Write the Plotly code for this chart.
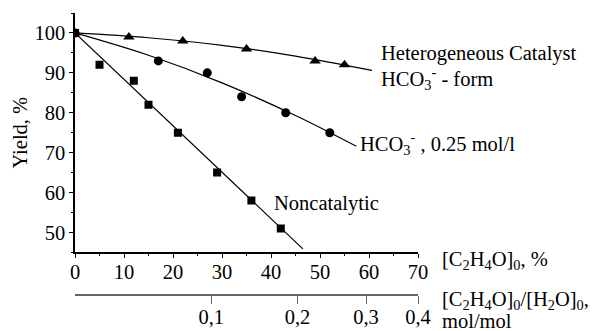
import plotly.graph_objects as go

# Noncatalytic (squares)
nc_x = [0, 5, 12, 15, 21, 29, 36, 42]
nc_y = [100, 92, 88, 82, 75, 65, 58, 51]
nc_fit_x = [0, 46.5]
nc_fit_y = [100, 45.9]

# HCO3-, 0.25 mol/l (circles)
hc_x = [0, 17, 27, 34, 43, 52]
hc_y = [100, 93, 90, 84, 80, 75]
hc_fit_x = [0, 15, 30, 45, 57.4]
hc_fit_y = [100, 94.4, 87.5, 79.3, 71.6]

# Heterogeneous catalyst HCO3- form (triangles)
het_x = [0, 11, 22, 35, 49, 55]
het_y = [100, 99, 98, 96, 93, 92]
het_fit_x = [0, 15, 30, 45, 60.6]
het_fit_y = [100, 98.8, 96.9, 94.2, 90.6]

# secondary axis: mol/mol ratio ticks placed at equivalent % positions
ratio_pos = [27.8, 45.4, 59.4, 70]
ratio_text = ["0,1", "0,2", "0,3", "0,4"]

FONT = "Liberation Serif"
FS = 20.5
W, H = 595, 331
ML, MR, MT, MB = 75, 177, 13, 36
PW, PH = W - ML - MR, H - MT - MB


def px(x):
    return (x - ML) / PW


def py(y):
    return (H - MB - y) / PH


fig = go.Figure()
line_style = dict(color="black", width=1.2)

fig.add_trace(go.Scatter(x=het_fit_x, y=het_fit_y, mode="lines", line=dict(shape="spline", **line_style), hoverinfo="skip"))
fig.add_trace(go.Scatter(x=hc_fit_x, y=hc_fit_y, mode="lines", line=dict(shape="spline", **line_style), hoverinfo="skip"))
fig.add_trace(go.Scatter(x=nc_fit_x, y=nc_fit_y, mode="lines", line=line_style, hoverinfo="skip"))
fig.add_trace(go.Scatter(x=nc_x, y=nc_y, mode="markers", marker=dict(symbol="square", size=8, color="black")))
fig.add_trace(go.Scatter(x=het_x, y=het_y, mode="markers", marker=dict(symbol="triangle-up", size=10, color="black")))
fig.add_trace(go.Scatter(x=hc_x, y=hc_y, mode="markers", marker=dict(symbol="circle", size=9, color="black")))
fig.add_trace(go.Scatter(x=ratio_pos, y=[None] * len(ratio_pos), xaxis="x2", mode="markers", hoverinfo="skip"))

fig.update_layout(
    width=W, height=H,
    margin=dict(l=ML, r=MR, t=MT, b=MB),
    paper_bgcolor="white", plot_bgcolor="white",
    showlegend=False,
    font=dict(family=FONT, size=FS, color="black"),
    xaxis=dict(range=[0, 70], tickvals=[0, 10, 20, 30, 40, 50, 60, 70],
               showline=True, linecolor="black", linewidth=1.5,
               ticks="outside", ticklen=4, tickwidth=1.2, tickcolor="black",
               minor=dict(ticks="outside", ticklen=2, tickwidth=1.2, tickcolor="black", dtick=5),
               showgrid=False, zeroline=False, anchor="y", automargin=False,
               ticklabelstandoff=-4,
               tickfont=dict(family=FONT, size=FS)),
    yaxis=dict(range=[45, 105], domain=[0.151, 1], tickvals=[50, 60, 70, 80, 90, 100],
               showline=True, linecolor="black", linewidth=1.5,
               ticks="outside", ticklen=4, tickwidth=1.2, tickcolor="black",
               minor=dict(ticks="outside", ticklen=2, tickwidth=1.2, tickcolor="black", dtick=5),
               showgrid=False, zeroline=False, automargin=False,
               title=dict(text="Yield, %", font=dict(family=FONT, size=FS), standoff=1),
               tickfont=dict(family=FONT, size=FS)),
    xaxis2=dict(range=[0, 70], overlaying="x", anchor="free", position=0, side="bottom",
                tickvals=ratio_pos, ticktext=ratio_text, automargin=False,
                showline=True, linecolor="#666", linewidth=1.5,
                ticks="outside", ticklen=8, tickwidth=1.2, tickcolor="#666",
                showgrid=False, zeroline=False, ticklabelstandoff=-4,
                tickfont=dict(family=FONT, size=FS)),
)

ann = [
    (379, 53.3, "Heterogeneous Catalyst"),
    (379, 78, "HCO<sub>3</sub><sup>-</sup> - form"),
    (358, 143, "HCO<sub>3</sub><sup>-</sup> , 0.25 mol/l"),
    (272, 203.3, "Noncatalytic"),
    (440, 260, "[C<sub>2</sub>H<sub>4</sub>O]<sub>0</sub>, %"),
    (440, 300.5, "[C<sub>2</sub>H<sub>4</sub>O]<sub>0</sub>/[H<sub>2</sub>O]<sub>0</sub>,"),
    (440, 320.5, "mol/mol"),
]
for x, y, t in ann:
    fig.add_annotation(x=px(x), y=py(y), xref="paper", yref="paper", text=t, showarrow=False,
                       xanchor="left", yanchor="middle", font=dict(family=FONT, size=FS))

fig.write_html("out.html", config={"displayModeBar": False},
               post_script="document.body.style.margin='0';document.body.style.overflow='hidden';")
